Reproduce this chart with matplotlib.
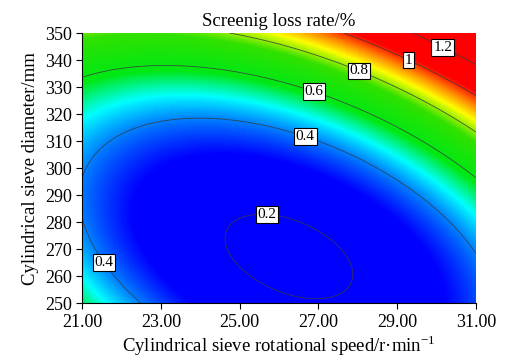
import numpy as np
import matplotlib
matplotlib.use('Agg')
import matplotlib.pyplot as plt
from matplotlib.colors import LinearSegmentedColormap, Normalize

plt.rcParams['font.family'] = ['Liberation Serif', 'DejaVu Serif']
plt.rcParams['mathtext.fontset'] = 'custom'
plt.rcParams['mathtext.rm'] = 'Liberation Serif'

# Traced iso-loss points: rotational speed (r/min), sieve diameter (mm), loss rate (%)
speed = [24.63, 25.4, 26.3, 28.06, 27.2, 24.9,
         21.15, 21.74, 23.4, 24.3, 25.5, 26.7, 28.56, 29.83, 31.0, 21.03, 21.15, 22.5,
         21.0, 23.0, 24.7, 26.9, 30.25, 31.0,
         24.58, 28.06, 31.0,
         27.5, 29.32, 31.0,
         29.25, 30.16, 31.0]
diameter = [272.2, 281.5, 279.5, 258.5, 252.5, 263.0,
            300.0, 308.5, 317.8, 318.8, 316.0, 313.0, 298.0, 287.0, 269.5, 280.0, 274.4, 250.0,
            334.6, 338.0, 336.0, 328.9, 303.0, 296.0,
            350.0, 337.0, 314.0,
            350.0, 340.7, 326.0,
            350.0, 344.8, 339.0]
loss = [0.2] * 6 + [0.4] * 12 + [0.6] * 6 + [0.8] * 3 + [1.0] * 3 + [1.2] * 3

levels = [0.2, 0.4, 0.6, 0.8, 1.0, 1.2]
label_pos = [(25.7, 284.4), (26.7, 313.0), (21.66, 266.0), (26.9, 328.9),
             (28.06, 337.0), (29.32, 340.7), (30.16, 344.8)]

x_ticks = [21, 23, 25, 27, 29, 31]
y_ticks = list(range(250, 351, 10))


def coded(s, d):
    return (np.asarray(s) - 26.0) / 5.0, (np.asarray(d) - 300.0) / 50.0


def design(a, b):
    return np.column_stack([np.ones_like(a), a, b, a * b, a ** 2, b ** 2])


# second-order response surface fitted to the traced points
a, b = coded(speed, diameter)
coef, *_ = np.linalg.lstsq(design(a, b), np.asarray(loss), rcond=None)

gs = np.linspace(21, 31, 300)
gd = np.linspace(250, 350, 300)
S, D = np.meshgrid(gs, gd)
A, B = coded(S, D)
Z = (design(A.ravel(), B.ravel()) @ coef).reshape(S.shape)

nodes = [(0.30, (0, 0, 255)), (0.40, (0, 130, 255)), (0.48, (0, 255, 255)),
         (0.58, (0, 232, 20)), (0.75, (50, 225, 0)), (0.86, (255, 255, 0)),
         (0.94, (255, 140, 0)), (1.03, (255, 0, 0))]
vmin, vmax = nodes[0][0], nodes[-1][0]
cmap = LinearSegmentedColormap.from_list(
    'loss', [((v - vmin) / (vmax - vmin), tuple(c / 255 for c in col)) for v, col in nodes])

fig = plt.figure(figsize=(5.1, 3.63), dpi=100)
ax = fig.add_axes([0.161, 0.165, 0.772, 0.744])
ax.pcolormesh(S, D, Z, cmap=cmap, norm=Normalize(vmin, vmax), shading='gouraud')
cs = ax.contour(S, D, Z, levels=levels, colors='#3a3a3a', linewidths=0.6, alpha=0.85)
labels = ax.clabel(cs, fmt=lambda v: f'{v:g}', manual=label_pos, inline=False, fontsize=11)
for t in labels:
    t.set_rotation(0)
    t.set_color('black')
    t.set_alpha(1)
    t.set_bbox(dict(boxstyle='square,pad=0.12', fc='white', ec='black', lw=0.8))

ax.set_xlim(21, 31)
ax.set_ylim(250, 350)
ax.set_xticks(x_ticks)
ax.set_xticklabels([f'{v:.2f}' for v in x_ticks])
ax.set_yticks(y_ticks)
ax.tick_params(direction='out', length=4, width=0.8, labelsize=13)
for side in ('top', 'right'):
    ax.spines[side].set_visible(False)

ax.set_title('Screenig loss rate/%', fontsize=13.5, pad=5)
ax.set_xlabel(r'Cylindrical sieve rotational speed/r·min$^{\mathregular{-1}}$', fontsize=13.5, labelpad=2)
ax.set_ylabel('Cylindrical sieve diameter/mm', fontsize=13.5, labelpad=4)

fig.savefig('out.png', dpi=100)
